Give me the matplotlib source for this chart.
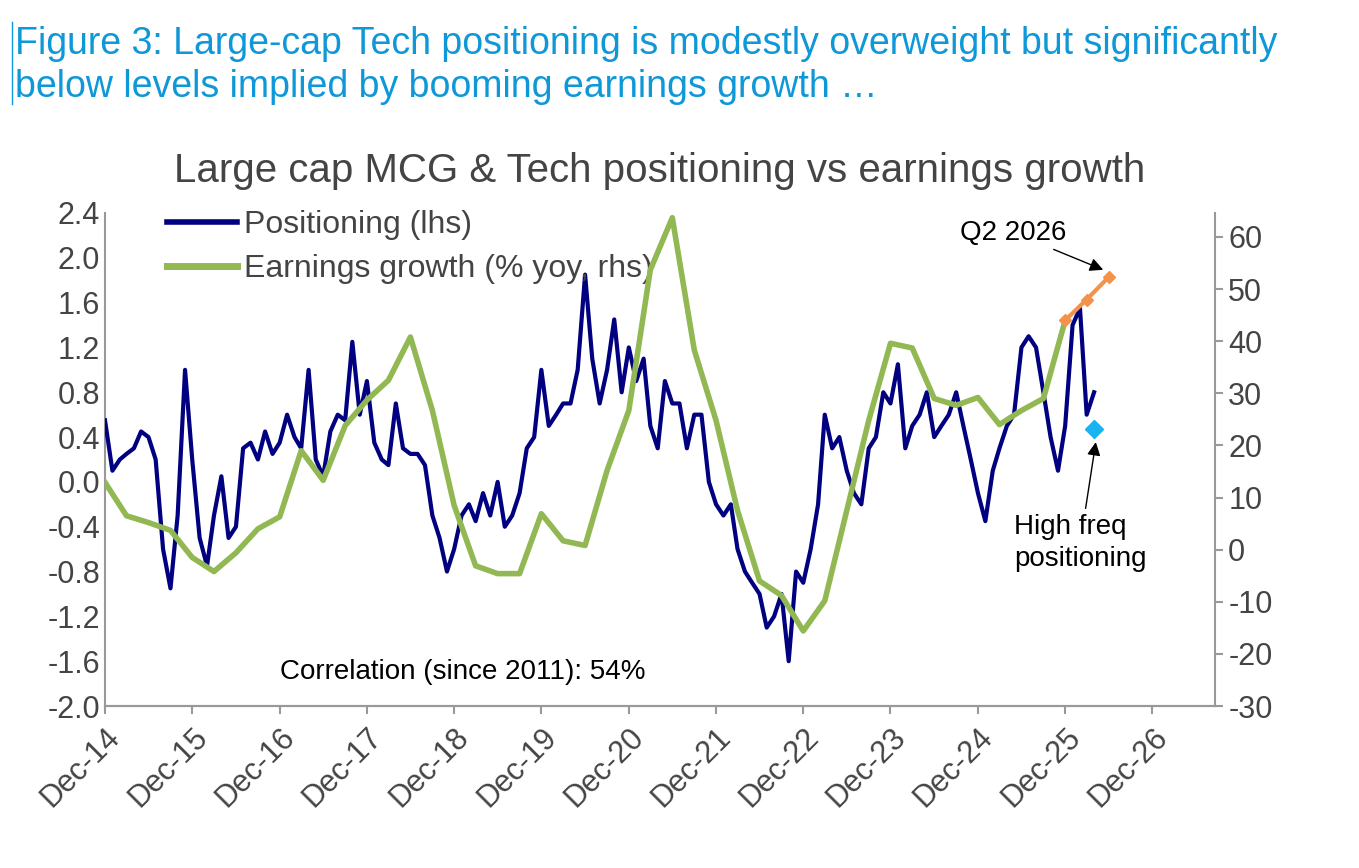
import matplotlib
matplotlib.use("Agg")
import matplotlib.pyplot as plt
import pandas as pd
import numpy as np
from matplotlib.lines import Line2D

plt.rcParams['font.family'] = ['Liberation Sans', 'DejaVu Sans']

pos_start = "2014-12-01"
positioning = [0.55,0.1,0.2,0.25,0.3,0.45,0.4,0.2,-0.6,-0.95,-0.3,1.0,0.2,-0.5,-0.75,-0.3,0.05,-0.5,-0.4,0.3,
 0.35,0.2,0.45,0.25,0.35,0.6,0.4,0.3,1.0,0.2,0.05,0.45,0.6,0.55,1.25,0.6,0.9,0.35,0.2,0.15,
 0.7,0.3,0.25,0.25,0.15,-0.3,-0.5,-0.8,-0.6,-0.3,-0.2,-0.35,-0.1,-0.3,0.0,-0.4,-0.3,-0.1,0.3,0.4,
 1.0,0.5,0.6,0.7,0.7,1.0,1.85,1.1,0.7,1.0,1.45,0.8,1.2,0.9,1.1,0.5,0.3,0.9,0.7,0.7,
 0.3,0.6,0.6,0.0,-0.2,-0.3,-0.2,-0.6,-0.8,-0.9,-1.0,-1.3,-1.2,-1.0,-1.6,-0.8,-0.9,-0.6,-0.2,0.6,
 0.3,0.4,0.1,-0.1,-0.2,0.3,0.4,0.8,0.7,1.05,0.3,0.5,0.6,0.8,0.4,0.5,0.6,0.8,0.5,0.2,
 -0.1,-0.35,0.1,0.3,0.5,0.6,1.2,1.3,1.2,0.8,0.4,0.1,0.5,1.4,1.55,0.6,0.8]

eg_start = "2014-12-01"
earnings = [12.9,6.5,5.2,3.7,-1.5,-4.2,-0.6,4.0,6.3,19.0,13.3,23.8,28.7,32.5,40.8,26.7,8.5,-3.1,-4.6,-4.6,
 6.9,1.7,0.8,15.2,26.7,53.7,63.7,38.3,24.8,7.5,-6.0,-8.8,-15.6,-9.8,7.5,24.8,39.6,38.7,29.0,27.7,
 29.2,24.0,26.7,29.0,44.0]

fc_dates = ["2025-12-01", "2026-03-01", "2026-06-01"]
forecast = [44.0, 48.0, 52.3]
hf_date = "2026-04-01"
hf_value = 0.47

pos_dates = pd.date_range(pos_start, periods=len(positioning), freq="MS")
eg_dates = pd.date_range(eg_start, periods=len(earnings), freq="3MS")

fig = plt.figure(figsize=(13.59, 8.68), dpi=100)
ax = fig.add_axes([105/1359, 1-706/868, 1110/1359, (706-213)/868])
ax2 = ax.twinx()

ax.plot(pos_dates, positioning, color="#000080", lw=3, zorder=3)
ax2.plot(eg_dates, earnings, color="#92b853", lw=4)
ax2.plot(pd.to_datetime(fc_dates), forecast, color="#f5924a", lw=3, marker="D", ms=6)
ax.plot([pd.Timestamp(hf_date)], [hf_value], marker="D", color="#1ab2f0", ms=9, ls="none", zorder=5)

yt = np.round(np.arange(-2.0, 2.41, 0.4), 1)
ax.set_ylim(-2.0, 2.4)
ax.set_yticks(yt)
ax.set_yticklabels([f"{abs(v):.1f}" if abs(v) < 1e-9 else f"{v:.1f}" for v in yt])
ax2.set_ylim(-30, 64.6)
ax2.set_yticks(range(-30, 61, 10))
ax2.set_yticklabels([str(v) for v in range(-30, 61, 10)])
ax.set_xlim(pd.Timestamp("2014-12-01"), pd.Timestamp("2027-08-20"))
ticks = pd.date_range("2014-12-01", periods=13, freq="12MS")
ax.set_xticks(ticks)
ax.set_xticklabels([d.strftime("Dec-%y") for d in ticks], rotation=45, ha="right", rotation_mode="anchor")

grey = "#999999"
for a in (ax, ax2):
    a.spines['top'].set_visible(False)
    for s in ('left', 'right', 'bottom'):
        a.spines[s].set_color(grey)
        a.spines[s].set_linewidth(1.5)
    a.tick_params(colors="#444444", labelsize=22, color=grey, length=6, width=1.5)
ax.tick_params(axis='y', length=0)
ax.tick_params(axis='x', pad=6)
ax.spines['right'].set_visible(False)
ax2.spines['left'].set_visible(False)

handles = [Line2D([], [], color="#000080", lw=4), Line2D([], [], color="#92b853", lw=5)]
ax.legend(handles, ["Positioning (lhs)", "Earnings growth (% yoy, rhs)"], loc="upper left",
          bbox_to_anchor=(0.03, 1.065), frameon=False, fontsize=23, labelcolor="#444444",
          handlelength=2.2, handletextpad=0.2, labelspacing=0.45)

ax.set_title("Large cap MCG & Tech positioning vs earnings growth", fontsize=29, color="#444444", pad=22)
fig.text(0.011, 0.97, "Figure 3: Large-cap Tech positioning is modestly overweight but significantly\nbelow levels implied by booming earnings growth …",
         fontsize=27, color="#0f98d8", va="top", linespacing=1.25)
fig.add_artist(Line2D([0.009, 0.009], [0.88, 0.975], color="#0f98d8", lw=1, transform=fig.transFigure))

ax.text(pd.Timestamp("2016-12-01"), -1.76, "Correlation (since 2011): 54%", fontsize=20, color="black")
ax2.annotate("Q2 2026", xy=(pd.Timestamp("2026-05-20"), 53.5), xytext=(pd.Timestamp("2024-09-15"), 59.5),
             fontsize=20, arrowprops=dict(arrowstyle="-|>", color="black", lw=1))
ax.annotate("High freq\npositioning", xy=(pd.Timestamp("2026-04-10"), 0.38), xytext=(pd.Timestamp("2025-05-01"), -0.75),
            fontsize=20, arrowprops=dict(arrowstyle="-|>", color="black", lw=1), linespacing=1.3)

fig.savefig("out.png", dpi=100)
